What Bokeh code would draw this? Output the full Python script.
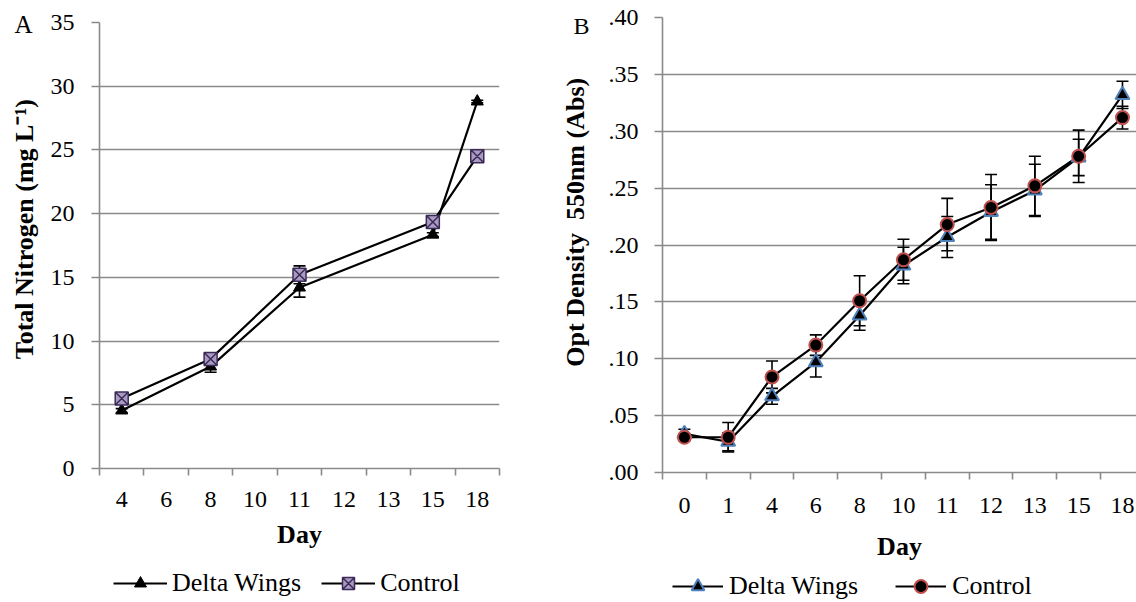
from bokeh.plotting import figure
from bokeh.models import (FixedTicker, Range1d, ColumnDataSource, Whisker, TeeHead,
                          Legend, LegendItem, CustomJSTickFormatter)
from bokeh.layouts import row, column
from bokeh.embed import file_html
from bokeh.resources import INLINE

# ---------------- data: panel A (Total Nitrogen) ----------------
days_axis_A = ["4", "6", "8", "10", "11", "12", "13", "15", "18"]
days_meas_A = ["4", "8", "11", "15", "18"]
delta_A = [4.55, 8.0, 14.2, 18.35, 28.8]
delta_A_err = [0.15, 0.45, 0.75, 0.15, 0.1]
control_A = [5.5, 8.6, 15.2, 19.35, 24.5]
control_A_err = [0.15, 0.45, 0.7, 0.15, 0.1]
yticks_A = [0, 5, 10, 15, 20, 25, 30, 35]

# ---------------- data: panel B (Optical density) ----------------
days_B = ["0", "1", "4", "6", "8", "10", "11", "12", "13", "15", "18"]
delta_B = [0.034, 0.027, 0.067, 0.097, 0.138, 0.182, 0.207, 0.229, 0.248, 0.277, 0.332]
delta_B_err = [0.004, 0.008, 0.007, 0.013, 0.013, 0.016, 0.018, 0.024, 0.023, 0.016, 0.012]
control_B = [0.031, 0.031, 0.084, 0.112, 0.151, 0.187, 0.218, 0.233, 0.252, 0.278, 0.312]
control_B_err = [0.003, 0.013, 0.014, 0.009, 0.022, 0.018, 0.023, 0.029, 0.026, 0.023, 0.010]
yticks_B = [0.0, 0.05, 0.10, 0.15, 0.20, 0.25, 0.30, 0.35, 0.40]

FONT = "Liberation Serif"
GRID = "#8a8a8a"
NBSP = "\u00a0"
STYLE_DELTA_A = dict(marker="triangle", size=12, fill_color="black", line_color="black")
STYLE_CONTROL_A = dict(marker="square_x", size=13, fill_color="#a99bc0",
                       line_color="#3b2a58", line_width=1.5)
STYLE_DELTA_B = dict(marker="triangle", size=14, fill_color="black",
                     line_color="#4F81BD", line_width=2)
STYLE_CONTROL_B = dict(marker="circle", size=13, fill_color="black",
                       line_color="#C0504D", line_width=2)


def style_axes(p, centers, labels, yticks, x_standoff, x_title_standoff,
               y_standoff, y_title_standoff):
    p.outline_line_color = None
    p.xgrid.visible = False
    p.ygrid.ticker = FixedTicker(ticks=yticks)
    p.ygrid.grid_line_color = GRID
    p.ygrid.grid_line_width = 1.6

    xa = p.xaxis[0]
    boundaries = [c - 0.5 for c in centers] + [centers[-1] + 0.5]
    xa.ticker = FixedTicker(ticks=centers, minor_ticks=boundaries)
    xa.major_label_overrides = {c: l for c, l in zip(centers, labels)}
    xa.major_tick_line_color = None
    xa.major_tick_out = 7
    xa.major_tick_in = 0
    xa.minor_tick_line_color = GRID
    xa.minor_tick_line_width = 1.6
    xa.minor_tick_out = 7
    xa.minor_tick_in = 0
    xa.axis_line_color = GRID
    xa.axis_line_width = 1.6
    xa.major_label_standoff = x_standoff
    xa.axis_label_standoff = x_title_standoff

    ya = p.yaxis[0]
    ya.ticker = FixedTicker(ticks=yticks)
    ya.major_tick_line_color = GRID
    ya.major_tick_line_width = 1.6
    ya.major_tick_out = 8
    ya.major_tick_in = 0
    ya.minor_tick_line_color = None
    ya.axis_line_color = GRID
    ya.axis_line_width = 1.6
    ya.major_label_standoff = y_standoff
    ya.axis_label_standoff = y_title_standoff

    for ax in (xa, ya):
        ax.major_label_text_font = FONT
        ax.major_label_text_font_size = "24px"
        ax.major_label_text_color = "black"
        ax.axis_label_text_font = FONT
        ax.axis_label_text_font_size = "26px"
        ax.axis_label_text_font_style = "bold"
        ax.axis_label_text_color = "black"


def panel_letter(p, text, offset, standoff, size):
    p.title.text = text
    p.title.align = "left"
    p.title.offset = offset
    p.title.standoff = standoff
    p.title.text_font = FONT
    p.title.text_font_size = size
    p.title.text_font_style = "normal"
    p.title.text_color = "black"


def add_whiskers(p, src):
    for up, lo in (("d_up", "d_lo"), ("c_up", "c_lo")):
        p.add_layout(Whisker(base="x", upper=up, lower=lo, source=src,
                             line_color="black", line_width=1.6,
                             upper_head=TeeHead(size=12, line_color="black", line_width=1.6),
                             lower_head=TeeHead(size=12, line_color="black", line_width=1.6)))


def legend_figure(width, height, src, style_d, style_c, loc, glyph_w, glyph_h, standoff, spacing):
    """A strip below a panel holding only its legend (series drawn off-range as proxies)."""
    f = figure(width=width, height=height, output_backend="svg", toolbar_location=None,
               x_range=Range1d(0, 1), y_range=Range1d(-1001, -1000),
               x_axis_location=None, y_axis_location=None,
               min_border=0, min_border_left=0, min_border_right=0,
               min_border_top=0, min_border_bottom=0)
    f.outline_line_color = None
    f.grid.visible = False
    l1 = f.line("x", "delta", source=src, line_color="black", line_width=2.2)
    m1 = f.scatter("x", "delta", source=src, **style_d)
    l2 = f.line("x", "control", source=src, line_color="black", line_width=2.2)
    m2 = f.scatter("x", "control", source=src, **style_c)
    leg = Legend(items=[LegendItem(label="Delta Wings", renderers=[l1, m1]),
                        LegendItem(label="Control", renderers=[l2, m2])],
                 orientation="horizontal", location=loc,
                 glyph_width=glyph_w, glyph_height=glyph_h, label_standoff=standoff,
                 spacing=spacing, padding=0, margin=0, border_line_color=None,
                 background_fill_alpha=0)
    leg.label_text_font = FONT
    leg.label_text_font_size = "26px"
    leg.label_text_font_style = "normal"
    leg.label_text_color = "black"
    f.add_layout(leg)
    return f


def make_source(x, d, de, c, ce):
    return ColumnDataSource(dict(
        x=x, delta=d, control=c,
        d_up=[v + e for v, e in zip(d, de)], d_lo=[v - e for v, e in zip(d, de)],
        c_up=[v + e for v, e in zip(c, ce)], c_lo=[v - e for v, e in zip(c, ce)],
    ))


# ---------------- panel A ----------------
pA = figure(width=548, height=568, output_backend="svg", toolbar_location=None,
            x_range=Range1d(-0.5, len(days_axis_A) - 0.5), y_range=Range1d(0, 35),
            min_border_left=99, min_border_right=49, min_border_top=22, min_border_bottom=100)
centers_A = list(range(len(days_axis_A)))
pA.xaxis.axis_label = "Day"
# leading no-break spaces lift the rotated title a little above the frame's centre
pA.yaxis.axis_label = NBSP * 5 + "Total Nitrogen (mg L\u207b\u00b9)"
style_axes(pA, centers_A, days_axis_A, yticks_A, 16, 10, 17, 9)
panel_letter(pA, "A", -85, -30, "25px")

xA = [days_axis_A.index(d) for d in days_meas_A]
srcA = make_source(xA, delta_A, delta_A_err, control_A, control_A_err)
add_whiskers(pA, srcA)
pA.line("x", "delta", source=srcA, line_color="black", line_width=2.2)
pA.line("x", "control", source=srcA, line_color="black", line_width=2.2)
pA.scatter("x", "delta", source=srcA, **STYLE_DELTA_A)
pA.scatter("x", "control", source=srcA, **STYLE_CONTROL_A)

legA_fig = legend_figure(548, 34, srcA, STYLE_DELTA_A, STYLE_CONTROL_A, (14, 4), 54, 30, 5, 20)

# ---------------- panel B ----------------
pB = figure(width=588, height=568, output_backend="svg", toolbar_location=None,
            x_range=Range1d(-0.5, 10.32), y_range=Range1d(0, 0.40),
            min_border_left=114, min_border_right=0, min_border_top=17, min_border_bottom=96)
centers_B = list(range(len(days_B)))
pB.xaxis.axis_label = "Day"
pB.yaxis.axis_label = NBSP * 7 + "Opt Density" + NBSP + " 550nm (Abs)"
style_axes(pB, centers_B, days_B, yticks_B, 18, 16, 16, 16)
pB.yaxis[0].formatter = CustomJSTickFormatter(code="return tick.toFixed(2).replace(/^0/, '');")
panel_letter(pB, "B", -89, -42, "24px")

srcB = make_source(centers_B, delta_B, delta_B_err, control_B, control_B_err)
add_whiskers(pB, srcB)
pB.line("x", "delta", source=srcB, line_color="black", line_width=2.2)
pB.line("x", "control", source=srcB, line_color="black", line_width=2.2)
pB.scatter("x", "delta", source=srcB, **STYLE_DELTA_B)
pB.scatter("x", "control", source=srcB, **STYLE_CONTROL_B)

legB_fig = legend_figure(588, 34, srcB, STYLE_DELTA_B, STYLE_CONTROL_B, (10, 0), 51, 32, 6, 37)

layout = row(column(pA, legA_fig, spacing=0), column(pB, legB_fig, spacing=0), spacing=0)
open("out.html", "w").write(file_html(layout, INLINE))
